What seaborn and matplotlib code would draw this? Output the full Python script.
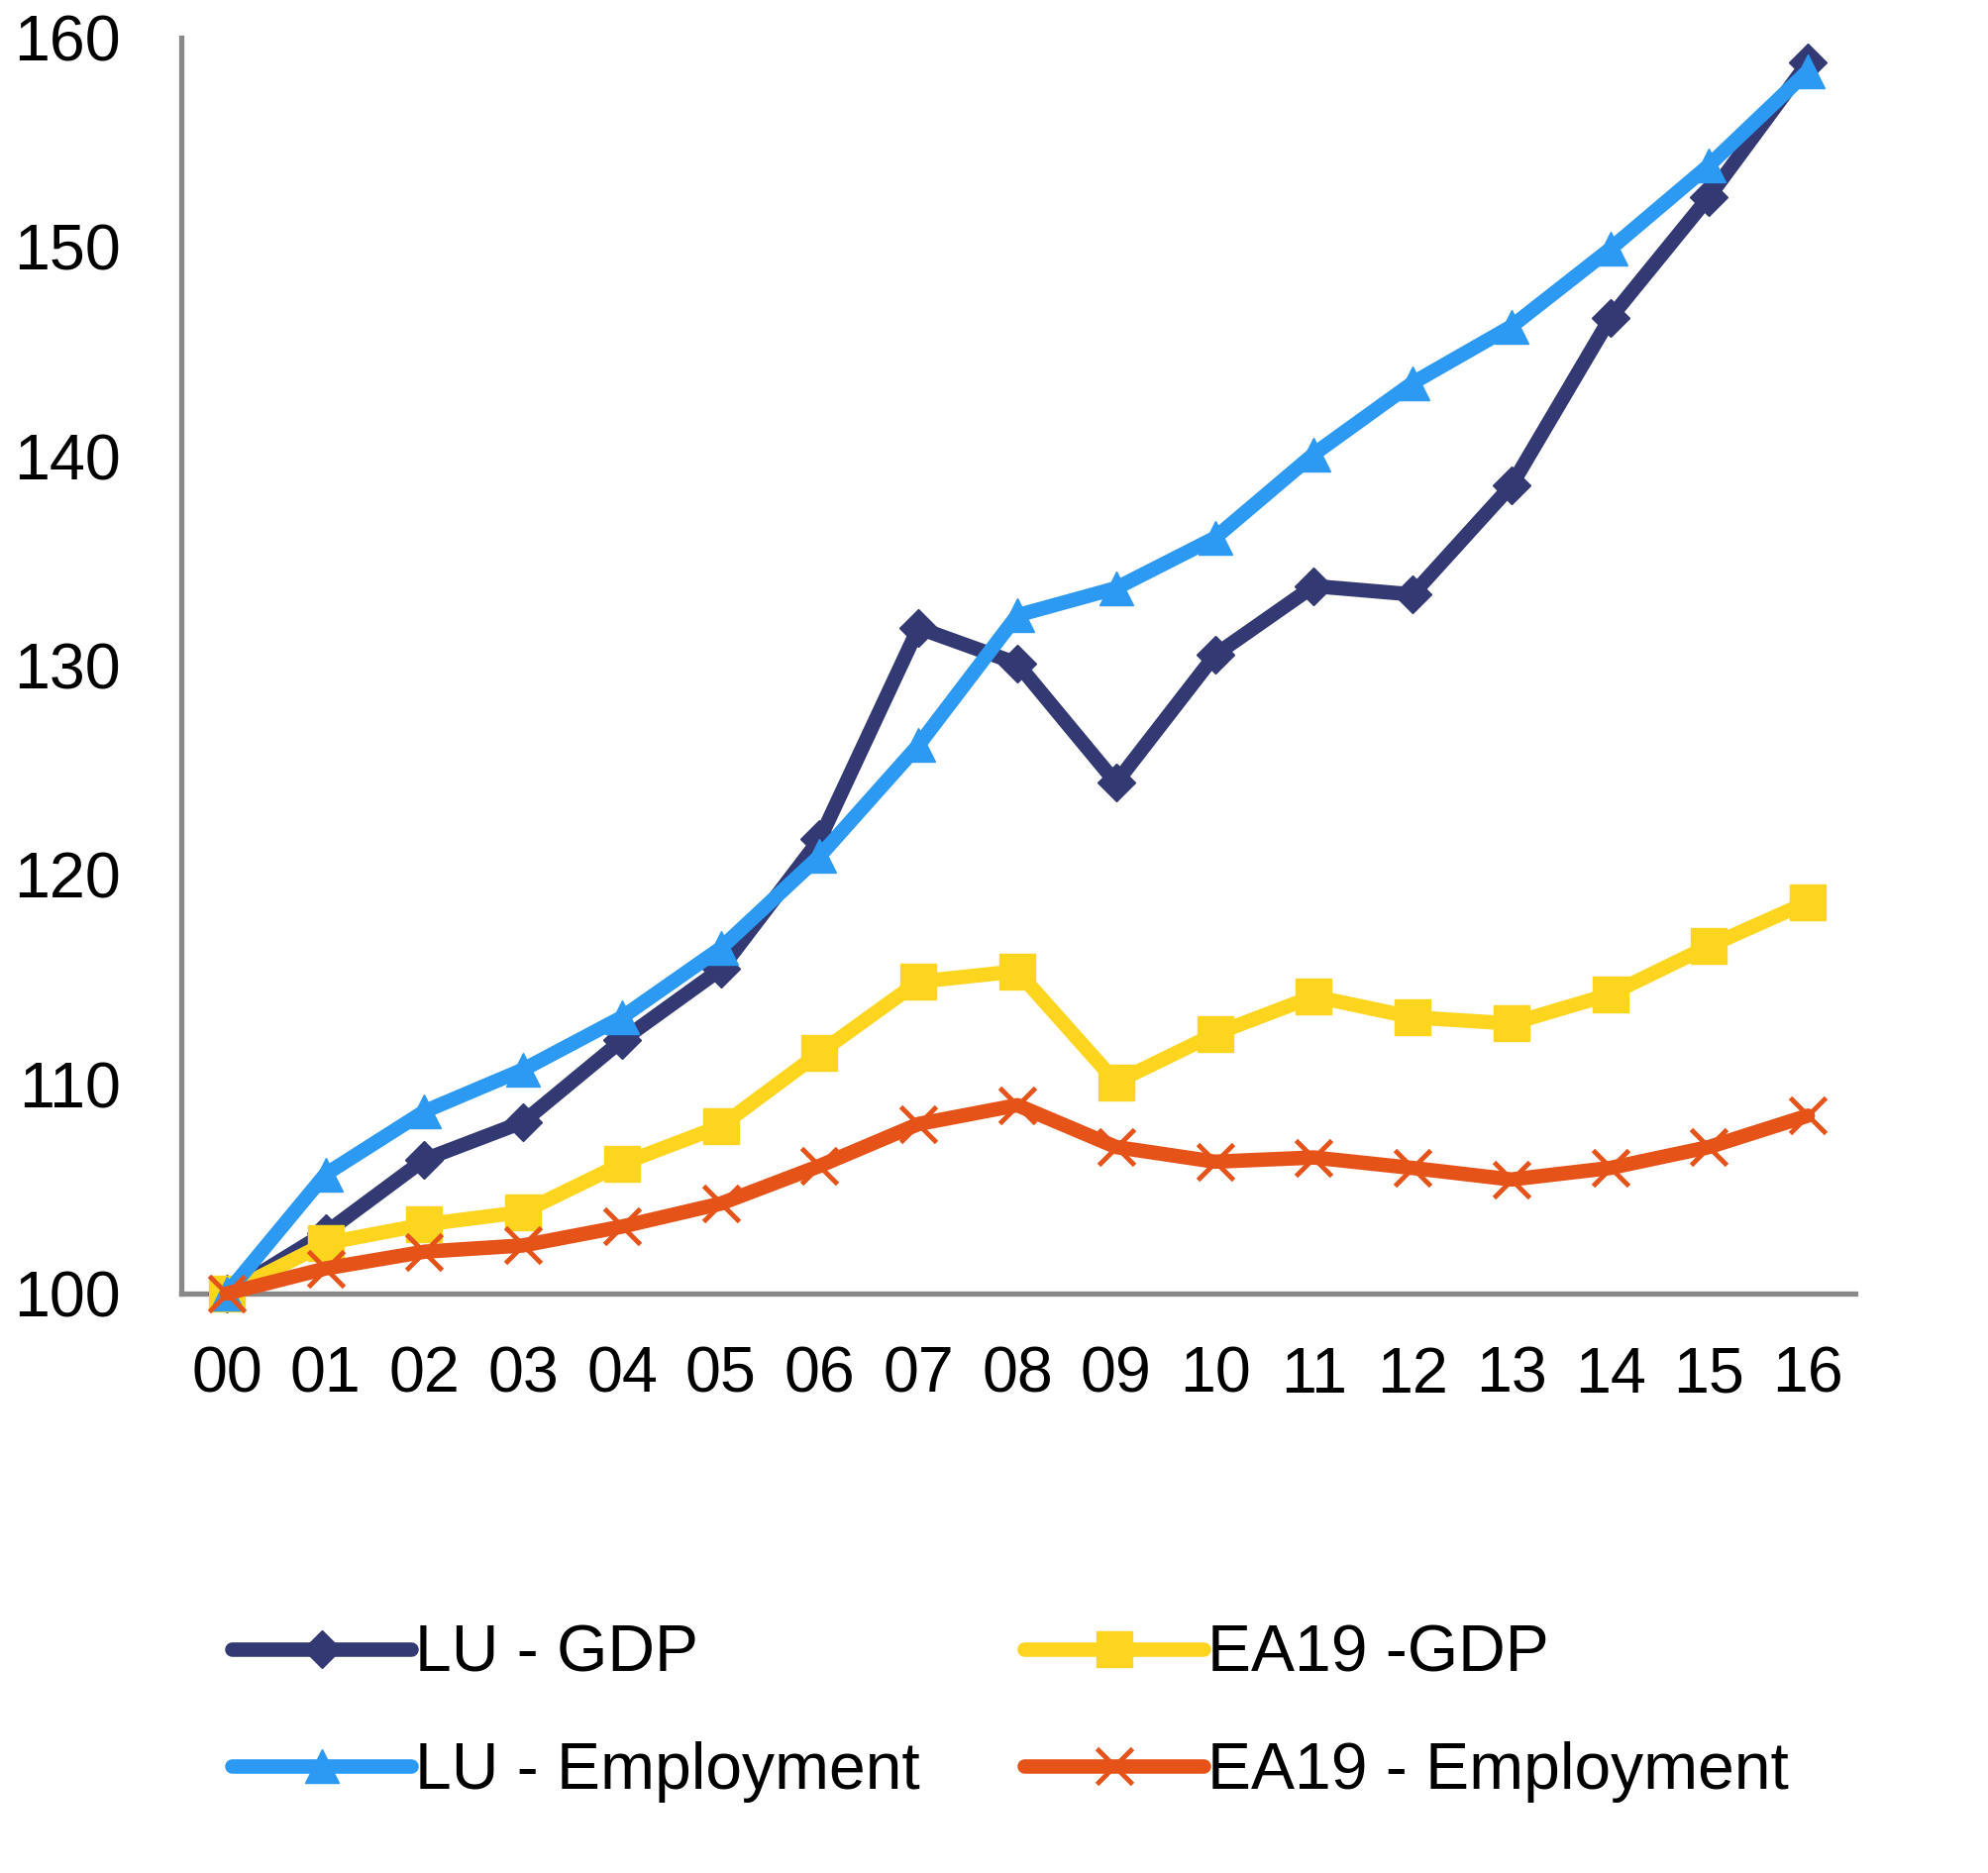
import numpy as np
import pandas as pd
import matplotlib
matplotlib.use("Agg")
import matplotlib.pyplot as plt
import seaborn as sns

# ---- data (index, 2000 = 100) ----
years = ["00", "01", "02", "03", "04", "05", "06", "07", "08",
         "09", "10", "11", "12", "13", "14", "15", "16"]
lu_gdp = [100, 102.9, 106.4, 108.2, 112.1, 115.5, 121.7, 131.8, 130.1,
          124.4, 130.5, 133.8, 133.4, 138.6, 146.6, 152.4, 158.8]
lu_emp = [100, 105.7, 108.7, 110.7, 113.2, 116.5, 120.9, 126.2, 132.4,
          133.7, 136.1, 140.1, 143.5, 146.2, 149.9, 153.9, 158.4]
ea_gdp = [100, 102.4, 103.3, 103.9, 106.2, 108.0, 111.5, 114.9, 115.4,
          110.1, 112.4, 114.2, 113.2, 112.9, 114.3, 116.6, 118.7]
ea_emp = [100, 101.2, 102.0, 102.3, 103.2, 104.3, 106.1, 108.1, 109.0,
          107.0, 106.3, 106.5, 106.0, 105.45, 106.0, 107.0, 108.5]

labels = ["LU - GDP", "EA19 -GDP", "LU - Employment", "EA19 - Employment"]
colors = ["#333A73", "#FDD51E", "#2C99F2", "#E65319"]

df = pd.DataFrame({"pos": np.arange(len(years)), "year": years,
                   labels[0]: lu_gdp, labels[1]: ea_gdp,
                   labels[2]: lu_emp, labels[3]: ea_emp})

sns.set_style("white")
plt.rcParams["font.family"] = ["Liberation Sans", "DejaVu Sans"]
plt.rcParams["text.color"] = "black"
plt.rcParams["xtick.color"] = "black"
plt.rcParams["ytick.color"] = "black"

fig = plt.figure(figsize=(20.08, 18.91), dpi=100)
ax = fig.add_axes([183 / 2008, 1 - 1306 / 1891, (1873 - 183) / 2008, (1306 - 38) / 1891])

styles = {
    labels[0]: dict(marker="D", markersize=19, mew=1),
    labels[1]: dict(marker="s", markersize=26, mew=1),
    labels[2]: dict(marker="^", markersize=25, mew=1),
    labels[3]: dict(marker="x", markersize=26, mew=3.5),
}
for i, (lab, col) in enumerate(zip(labels, colors)):
    sns.lineplot(data=df, x="pos", y=lab, ax=ax, color=col, linewidth=10.5,
                 errorbar=None, label=lab, legend=False, mec=col, mfc=col,
                 clip_on=False, zorder=3 + i,
                 solid_capstyle="round", solid_joinstyle="round",
                 **styles[lab])

ax.set_xlim(-0.46, 16.48)
ax.set_ylim(100, 160)
ax.set_yticks(range(100, 161, 10))
ax.set_xticks(df["pos"])
ax.set_xticklabels(years)
ax.set_xlabel("")
ax.set_ylabel("")
ax.tick_params(axis="both", length=0, labelsize=46.5, labelcolor="black")
ax.tick_params(axis="y", pad=44)
ax.tick_params(axis="x", pad=38)
for s in ["top", "right"]:
    ax.spines[s].set_visible(False)
for s in ["left", "bottom"]:
    ax.spines[s].set_color("#898989")
    ax.spines[s].set_linewidth(3.8)
ax.grid(False)

lines = ax.get_lines()
order = [0, 2, 1, 3]
fig.legend([lines[i] for i in order], [labels[i] for i in order],
           ncol=2, loc="center left", bbox_to_anchor=(234 / 2008, 1 - 1730 / 1891),
           frameon=False, fontsize=47.5, handlelength=2.75, handletextpad=0.05,
           columnspacing=1.6, labelspacing=0.85, borderpad=0, borderaxespad=0)

fig.savefig("out.png", dpi=100)
